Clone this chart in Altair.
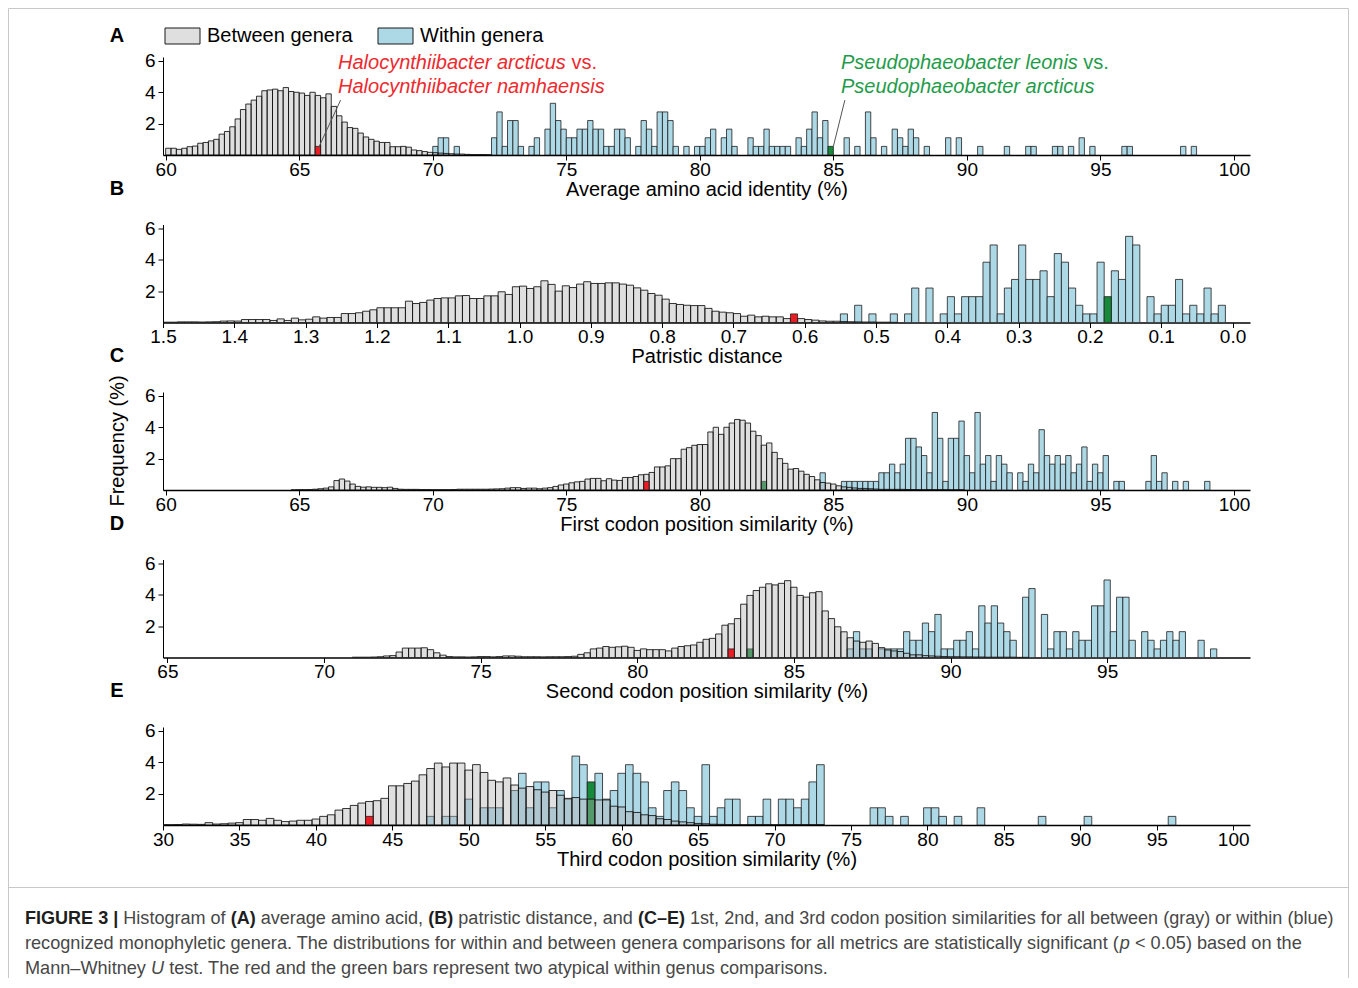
import altair as alt
import pandas as pd

FONT = "Liberation Sans"
N_WITHIN = 182          # within-genus comparisons (one count = 100/182 %)

# ---------------- data ----------------
# A: average amino acid identity (%)
A_between_start, A_between_step = 60.1, 0.2
A_between = [0.43,0.43,0.36,0.43,0.53,0.57,0.75,0.80,0.90,1.00,
             1.33,1.50,1.80,2.30,2.90,3.25,3.50,3.75,4.10,4.15,
             4.20,4.10,4.30,4.05,4.00,3.95,3.80,4.00,3.80,3.65,
             3.90,3.10,2.50,2.10,1.75,1.70,1.40,1.15,1.00,0.88,
             0.80,0.80,0.53,0.53,0.55,0.50,0.32,0.28,0.22,0.17,
             0.15,0.12,0.10,0.08,0.06,0.06,0.04,0.03,0.03,0.03,0.02]
A_within_x = [70.1,70.3,70.5,70.9,72.3,72.5,72.7,72.9,73.1,73.3,
              73.7,73.9,74.3,74.5,74.7,74.9,75.1,75.3,75.5,75.7,
              75.9,76.1,76.3,76.5,76.7,76.9,77.1,77.3,77.7,77.9,
              78.1,78.3,78.5,78.7,78.9,79.1,79.5,79.9,80.1,80.3,
              80.5,80.9,81.1,81.3,81.9,82.1,82.3,82.5,82.7,82.9,
              83.1,83.3,83.7,83.9,84.1,84.3,84.5,84.7,85.5,85.9,
              86.3,86.5,86.9,87.3,87.5,87.7,87.9,88.1,88.5,89.3,
              89.7,90.5,91.5,92.3,92.5,93.3,93.5,93.9,94.3,94.7,
              95.9,96.1,98.1,98.5]
A_within_n = [1,2,2,1,2,5,1,4,4,1,
              1,2,3,6,4,3,2,2,3,3,
              4,3,3,1,1,3,3,2,1,4,
              3,1,5,5,4,1,1,1,1,2,
              3,2,3,1,2,1,1,3,1,1,
              1,1,2,1,3,5,2,4,2,1,
              5,2,1,3,2,1,3,2,1,2,
              2,1,1,1,1,1,1,1,2,1,
              1,1,1,1]
A_red = ([65.7], [1])
A_green = ([84.9], [1])

# B: patristic distance (reversed axis)
B_between_start, B_between_step = 1.495, -0.01
B_between = [0.02,0.02,0.04,0.04,0.04,0.03,0.04,0.05,0.09,0.10,
             0.09,0.19,0.19,0.19,0.19,0.13,0.23,0.13,0.28,0.17,
             0.21,0.36,0.28,0.32,0.32,0.57,0.57,0.62,0.72,0.81,
             0.94,0.94,0.94,0.94,1.36,1.21,1.28,1.43,1.53,1.57,
             1.57,1.70,1.72,1.53,1.53,1.70,1.70,1.96,1.79,2.28,
             2.32,2.17,2.28,2.66,2.43,2.00,2.34,2.23,2.45,2.60,
             2.49,2.49,2.53,2.53,2.45,2.38,2.21,2.06,1.85,1.74,
             1.49,1.21,1.15,1.10,1.08,1.08,0.90,0.72,0.66,0.62,
             0.57,0.40,0.47,0.36,0.40,0.36,0.36,0.25,0.25,0.25,
             0.19,0.15,0.10,0.08,0.08,0.06,0.05,0.04,0.03,0.03,
             0.02,0.02,0.01]
B_within_x = [0.545,0.525,0.505,0.475,0.455,0.445,0.425,0.405,0.395,0.385,
              0.375,0.365,0.355,0.345,0.335,0.325,0.315,0.305,0.295,0.285,
              0.275,0.265,0.255,0.245,0.235,0.225,0.215,0.205,0.195,0.185,
              0.165,0.155,0.145,0.135,0.115,0.105,0.095,0.085,0.075,0.065,
              0.055,0.045,0.035,0.025,0.015]
B_within_n = [1,2,1,1,1,4,4,1,3,1,
              3,3,3,7,9,1,4,5,9,5,
              5,6,3,8,7,4,2,1,1,7,
              6,5,10,9,3,1,2,2,5,1,
              2,1,4,1,2]
B_red = ([0.615], [1])
B_green = ([0.175], [3])

# C: first codon position similarity (%)
C_between_start, C_between_step = 64.8, 0.2
C_between = [0.01,0.02,0.02,0.03,0.05,0.08,0.12,0.20,0.60,0.70,
             0.57,0.38,0.23,0.18,0.20,0.17,0.17,0.15,0.18,0.10,
             0.05,0.04,0.04,0.04,0.03,0.03,0.02,0.02,0.02,0.02,
             0.03,0.05,0.05,0.05,0.05,0.05,0.05,0.06,0.07,0.08,
             0.12,0.15,0.15,0.10,0.12,0.12,0.08,0.12,0.15,0.23,
             0.32,0.38,0.46,0.52,0.55,0.70,0.74,0.74,0.59,0.72,
             0.63,0.61,0.80,0.80,0.86,0.97,1.00,1.12,1.47,1.47,
             1.54,2.00,2.00,2.60,2.70,2.85,2.90,2.90,3.70,4.00,
             3.55,4.00,4.27,4.50,4.45,4.27,3.75,3.47,2.86,3.00,
             2.40,2.00,1.70,1.33,1.37,1.20,1.00,0.86,0.65,0.48,
             0.44,0.38,0.27,0.20,0.17,0.13,0.10,0.10,0.08,0.06,
             0.04,0.04,0.04,0.04,0.04,0.03,0.03,0.02,0.02,0.02,
             0.02,0.02,0.01,0.01,0.01,0.01]
C_within_x = [84.6,85.4,85.6,85.8,86.0,86.2,86.4,86.6,86.8,87.0,
              87.2,87.4,87.6,87.8,88.0,88.2,88.4,88.6,88.8,89.0,
              89.2,89.4,89.6,89.8,90.0,90.2,90.4,90.6,90.8,91.0,
              91.2,91.4,91.6,92.0,92.2,92.4,92.6,92.8,93.0,93.2,
              93.4,93.6,93.8,94.0,94.2,94.4,94.6,94.8,95.0,95.2,
              95.6,95.8,96.8,97.0,97.2,97.4,97.8,98.2,99.0]
C_within_n = [2,1,1,1,1,1,1,1,2,2,
              3,2,3,6,6,5,4,2,9,6,
              1,6,6,8,4,2,9,3,4,1,
              4,3,2,2,1,3,2,7,4,3,
              4,3,4,2,3,5,1,3,2,4,
              1,1,1,4,1,2,1,1,1]
C_red = ([78.0], [1])
C_green = ([82.4], [1])

# D: second codon position similarity (%)
D_between_start, D_between_step = 71.0, 0.2
D_between = [0.02,0.02,0.02,0.03,0.05,0.10,0.12,0.35,0.60,0.60,
             0.60,0.62,0.50,0.30,0.15,0.06,0.04,0.04,0.03,0.04,
             0.06,0.06,0.04,0.06,0.10,0.10,0.08,0.05,0.05,0.05,
             0.04,0.05,0.05,0.05,0.06,0.08,0.20,0.30,0.55,0.60,
             0.70,0.65,0.68,0.72,0.65,0.45,0.55,0.50,0.50,0.50,
             0.42,0.60,0.70,0.75,0.80,0.97,1.16,1.22,1.50,2.06,
             2.15,2.48,3.40,3.96,4.27,4.48,4.70,4.63,4.73,4.90,
             4.48,3.96,3.85,4.13,4.20,2.97,2.48,1.96,1.64,1.26,
             1.05,0.97,1.05,0.90,0.63,0.48,0.42,0.38,0.27,0.17,
             0.17,0.12,0.10,0.08,0.06,0.05,0.05,0.04,0.04,0.03,
             0.03,0.02,0.02,0.02,0.02,0.02,0.01,0.01]
D_within_x = [86.8,87.0,87.2,87.4,87.8,88.0,88.2,88.4,88.6,88.8,
              89.0,89.2,89.4,89.6,89.8,90.0,90.2,90.4,90.6,90.8,
              91.0,91.2,91.4,91.6,91.8,92.0,92.4,92.6,93.0,93.2,
              93.4,93.6,93.8,94.0,94.2,94.4,94.6,94.8,95.0,95.2,
              95.4,95.6,95.8,96.2,96.4,96.6,96.8,97.0,97.2,97.4,
              98.0,98.4]
D_within_n = [1,3,1,1,1,1,1,1,3,2,
              2,4,3,5,1,1,2,2,3,1,
              6,4,6,4,3,2,7,8,5,1,
              3,3,1,3,2,2,6,6,9,3,
              7,7,2,3,2,1,2,3,2,3,
              2,1]
D_red = ([83.0], [1])
D_green = ([83.6], [1])

# E: third codon position similarity (%)
E_between_start, E_between_step = 30.0, 0.5
E_between = [0.02,0.02,0.03,0.06,0.05,0.04,0.15,0.06,0.08,0.12,
             0.15,0.35,0.35,0.30,0.42,0.30,0.22,0.25,0.30,0.30,
             0.38,0.55,0.65,0.95,1.05,1.25,1.40,1.50,1.55,1.70,
             2.50,2.50,2.65,2.80,3.20,3.60,3.95,3.70,3.95,3.95,
             3.50,3.85,3.35,2.85,2.75,3.00,2.55,2.35,2.45,2.25,
             2.10,2.20,1.90,1.70,1.75,1.65,1.65,1.60,1.60,1.20,
             1.15,0.85,0.80,0.65,0.60,0.40,0.35,0.25,0.20,0.15,
             0.10,0.08,0.05,0.04,0.02,0.02,0.02,0.02,0.02,0.02,
             0.02,0.02,0.02,0.02,0.02,0.02,0.02]
E_within_x = [47.5,48.5,49.0,50.0,51.0,51.5,52.0,53.0,53.5,54.0,
              54.5,55.0,55.5,56.0,56.5,57.0,57.5,58.5,59.0,59.5,
              60.0,60.5,61.0,61.5,62.0,62.5,63.0,63.5,64.0,64.5,
              65.0,65.5,66.0,66.5,67.0,67.5,68.5,69.0,69.5,70.5,
              71.0,71.5,72.0,72.5,73.0,76.5,77.0,77.5,78.5,80.0,
              80.5,81.0,82.0,83.5,87.5,90.5,96.0]
E_within_n = [1,1,1,3,2,2,2,4,6,2,
              5,5,2,4,3,8,7,6,3,4,
              6,7,6,5,2,1,4,5,4,2,
              1,7,1,2,3,3,1,1,3,3,
              3,2,3,5,7,2,2,1,1,2,
              2,1,1,2,1,1,1]
E_red = ([43.5], [1])
E_green = ([58.0], [5])

# axis ticks and titles
A_ticks = [60, 65, 70, 75, 80, 85, 90, 95, 100]
B_ticks = [1.5, 1.4, 1.3, 1.2, 1.1, 1.0, 0.9, 0.8, 0.7, 0.6, 0.5, 0.4, 0.3, 0.2, 0.1, 0.0]
D_ticks = [65, 70, 75, 80, 85, 90, 95]
E_ticks = [30, 35, 40, 45, 50, 55, 60, 65, 70, 75, 80, 85, 90, 95, 100]
Y_ticks = [2, 4, 6]

# annotation leader lines in panel A (data coordinates)
A_lead_red = dict(x1=[66.55], y1=[3.5], x2=[65.72], y2=[0.45])
A_lead_green = dict(x1=[85.43], y1=[3.5], x2=[85.0], y2=[0.55])

# ---------------- styling ----------------
BLUE = "#add8e6"
GRAY = "#b0b0b0"
RED = "#ea1c24"
GREEN = "#16893a"
RED_TXT = "#ee2a2f"
GREEN_TXT = "#1f9c4a"
W, H = 1087, 98
GAP = 69.5

REG = dict(zip(" !\"#$%&'()*+,-./0123456789:;<=>?@",
               [278,278,355,556,556,889,667,191,333,333,389,584,278,333,278,278,
                556,556,556,556,556,556,556,556,556,556,278,278,584,584,584,556,1015]))
REG.update(zip("ABCDEFGHIJKLMNOPQRSTUVWXYZ",
               [667,667,722,722,667,611,778,722,278,500,667,556,833,722,778,667,778,722,667,611,722,667,944,667,667,611]))
REG.update(zip("abcdefghijklmnopqrstuvwxyz",
               [556,556,500,556,556,278,556,556,222,222,500,222,833,556,556,556,556,333,500,278,556,500,722,500,500,500]))
REG.update({"\u2013": 556, "|": 260})
BOLD = {"F": 611, "I": 278, "G": 778, "U": 722, "R": 722, "E": 667, "3": 556, " ": 278,
        "|": 280, "(": 333, ")": 333, "A": 722, "B": 722, "C": 722, "D": 722, "\u2013": 556}


def tw(s, size, bold=False):
    t = BOLD if bold else REG
    return sum(t.get(ch, REG.get(ch, 556)) for ch in s) * size / 1000.0


def one():
    return pd.DataFrame({"k": [0]})


def txt(s, x, y, size=20, color="black", weight="normal", style="normal",
        align="left", angle=0):
    return alt.Chart(pd.DataFrame({"t": [s]})).mark_text(
        align=align, baseline="middle", fontSize=size, color=color, font=FONT,
        fontWeight=weight, fontStyle=style, angle=angle
    ).encode(x=alt.value(x), y=alt.value(y), text="t:N")


def prule(x1, y1, x2, y2, color="#c8c8c8", width=1):
    return alt.Chart(one()).mark_rule(color=color, strokeWidth=width).encode(
        x=alt.value(x1), x2=alt.value(x2), y=alt.value(y1), y2=alt.value(y2))


def prect(x1, y1, x2, y2, fill):
    return alt.Chart(one()).mark_rect(fill=fill, stroke="#1a1a1a", strokeWidth=1).encode(
        x=alt.value(x1), x2=alt.value(x2), y=alt.value(y1), y2=alt.value(y2))


def segments(segs, x0, y, size):
    out, x = [], x0
    for s, kind in segs:
        bold = kind == "b"
        lead = len(s) - len(s.lstrip(" "))
        core = s.strip(" ")
        xs = x + tw(" " * lead, size, bold)
        out.append(txt(core, xs, y, size=size,
                       color="#1e1e1e" if bold else "#474747",
                       weight="bold" if bold else "normal",
                       style="italic" if kind == "i" else "normal"))
        x += tw(s, size, bold)
    return out


def grid_df(start, step, vals):
    return pd.DataFrame({"c": [round(start + i * step, 4) for i in range(len(vals))], "v": vals})


def within_df(xs, ns):
    return pd.DataFrame({"c": xs, "v": [n * 100.0 / N_WITHIN for n in ns]})


def panel(between, within, red, green, w, dom, ticks, fmt, title, rev=False, extra=(), lead=()):
    xs = alt.Scale(domain=dom, nice=False, zero=False, reverse=rev)
    ys = alt.Scale(domain=[0, 6.25], nice=False, zero=False)
    xaxis = alt.Axis(values=ticks, format=fmt, title=title, labelFontSize=19, titleFontSize=20,
                     titleFontWeight="normal", tickSize=5, labelPadding=0, titlePadding=0,
                     domainWidth=1.5, domainColor="black", tickColor="black", tickWidth=1,
                     labelColor="black", titleColor="black", grid=False, labelFlush=False,
                     labelOverlap=False, labelFont=FONT, titleFont=FONT)
    yaxis = alt.Axis(values=Y_ticks, format="d", title=None, labelFontSize=19, tickSize=5,
                     labelPadding=3, domainWidth=1, domainColor="black", tickColor="black",
                     labelColor="black", grid=False, labelFont=FONT)

    def bars(df, fill, fop, stroke, sop):
        return alt.Chart(df).transform_calculate(
            lo=f"datum.c - {w / 2}", hi=f"datum.c + {w / 2}"
        ).mark_rect(fill=fill, fillOpacity=fop, stroke=stroke, strokeOpacity=sop,
                    strokeWidth=1, clip=True).encode(
            x=alt.X("lo:Q", scale=xs, axis=xaxis), x2="hi:Q",
            y=alt.Y("v:Q", scale=ys, axis=yaxis), y2=alt.datum(0))

    layers = [
        bars(within, BLUE, 1, "#1e1e1e", 0.8),
        bars(green, GREEN, 1, "#1e1e1e", 0.8),
        bars(between, GRAY, 0.4, "#111111", 0.85),
        bars(red, RED, 1, "#1e1e1e", 0.8),
    ]
    for ld in lead:
        layers.append(alt.Chart(pd.DataFrame(ld)).mark_rule(color="#555555", strokeWidth=1).encode(
            x=alt.X("x1:Q", scale=xs, axis=xaxis), x2="x2:Q",
            y=alt.Y("y1:Q", scale=ys, axis=yaxis), y2="y2:Q"))
    layers.extend(extra)
    return alt.layer(*layers).properties(width=W, height=H)


# ---------------- panel A extras: frame, legend, annotations ----------------
ann = 20
vs_r = 175 + tw("Halocynthiibacter arcticus ", ann)
vs_g = 678 + tw("Pseudophaeobacter leonis ", ann)
extraA = [
    prule(-154.5, -48.5, -154.5, 921),
    prule(-154.5, -48.5, 1185.5, -48.5),
    prule(1185.5, -48.5, 1185.5, 921),
    txt("A", -46, -21, weight="bold", align="center"),
    prect(2, -29, 37, -13, "#dfdfdf"),
    txt("Between genera", 44, -21),
    prect(215, -29, 250, -13, BLUE),
    txt("Within genera", 257, -21),
    txt("Halocynthiibacter arcticus", 175, 6, size=ann, color=RED_TXT, style="italic"),
    txt("vs.", vs_r, 6, size=ann, color=RED_TXT),
    txt("Halocynthiibacter namhaensis", 175, 30, size=ann, color=RED_TXT, style="italic"),
    txt("Pseudophaeobacter leonis", 678, 6, size=ann, color=GREEN_TXT, style="italic"),
    txt("vs.", vs_g, 6, size=ann, color=GREEN_TXT),
    txt("Pseudophaeobacter arcticus", 678, 30, size=ann, color=GREEN_TXT, style="italic"),
]

# caption (panel E coordinates)
cap1 = [("FIGURE 3 |", "b"), (" Histogram of ", "n"), ("(A)", "b"), (" average amino acid, ", "n"),
        ("(B)", "b"), (" patristic distance, and ", "n"), ("(C\u2013E)", "b"),
        (" 1st, 2nd, and 3rd codon position similarities for all between (gray) or within (blue)", "n")]
cap2 = [("recognized monophyletic genera. The distributions for within and between genera comparisons "
         "for all metrics are statistically significant (", "n"), ("p", "i"), (" < 0.05) based on the", "n")]
cap3 = [("Mann\u2013Whitney ", "n"), ("U", "i"),
        (" test. The red and the green bars represent two atypical within genus comparisons.", "n")]
cap_size = round(1277.0 / (sum(tw(s, 1.0) for s, _ in cap2)), 2)
cap1_size = round(cap_size * 0.995, 2)

extraE = [prule(-154.5, 160.5, 1185.5, 160.5), txt("E", -46, -36, weight="bold", align="center")]
extraE += segments(cap1, -138, 192, cap1_size)
extraE += segments(cap2, -138, 217, cap_size)
extraE += segments(cap3, -138, 242, cap_size)

pA = panel(grid_df(A_between_start, A_between_step, A_between), within_df(A_within_x, A_within_n),
           within_df(*A_red), within_df(*A_green), 0.2, [59.9, 100.6], A_ticks, "d",
           "Average amino acid identity (%)", extra=extraA,
           lead=(A_lead_red, A_lead_green))
pB = panel(grid_df(B_between_start, B_between_step, B_between), within_df(B_within_x, B_within_n),
           within_df(*B_red), within_df(*B_green), 0.01, [-0.0245, 1.5], B_ticks, ".1f",
           "Patristic distance", rev=True,
           extra=[txt("B", -46, -36, weight="bold", align="center")])
pC = panel(grid_df(C_between_start, C_between_step, C_between), within_df(C_within_x, C_within_n),
           within_df(*C_red), within_df(*C_green), 0.2, [59.9, 100.6], A_ticks, "d",
           "First codon position similarity (%)",
           extra=[txt("C", -46, -36, weight="bold", align="center"),
                  txt("Frequency (%)", -45, 49, align="center", angle=270)])
pD = panel(grid_df(D_between_start, D_between_step, D_between), within_df(D_within_x, D_within_n),
           within_df(*D_red), within_df(*D_green), 0.2, [64.86, 99.56], D_ticks, "d",
           "Second codon position similarity (%)",
           extra=[txt("D", -46, -36, weight="bold", align="center")])
pE = panel(grid_df(E_between_start, E_between_step, E_between), within_df(E_within_x, E_within_n),
           within_df(*E_red), within_df(*E_green), 0.5, [30.0, 101.1], E_ticks, "d",
           "Third codon position similarity (%)", extra=extraE)

chart = alt.VConcatChart(vconcat=[pA, pB, pC, pD, pE], spacing=GAP, bounds="flush", padding=0).configure(
    font=FONT).configure_view(stroke=None)

chart.save("out.html", embed_options={"renderer": "svg", "actions": False})
